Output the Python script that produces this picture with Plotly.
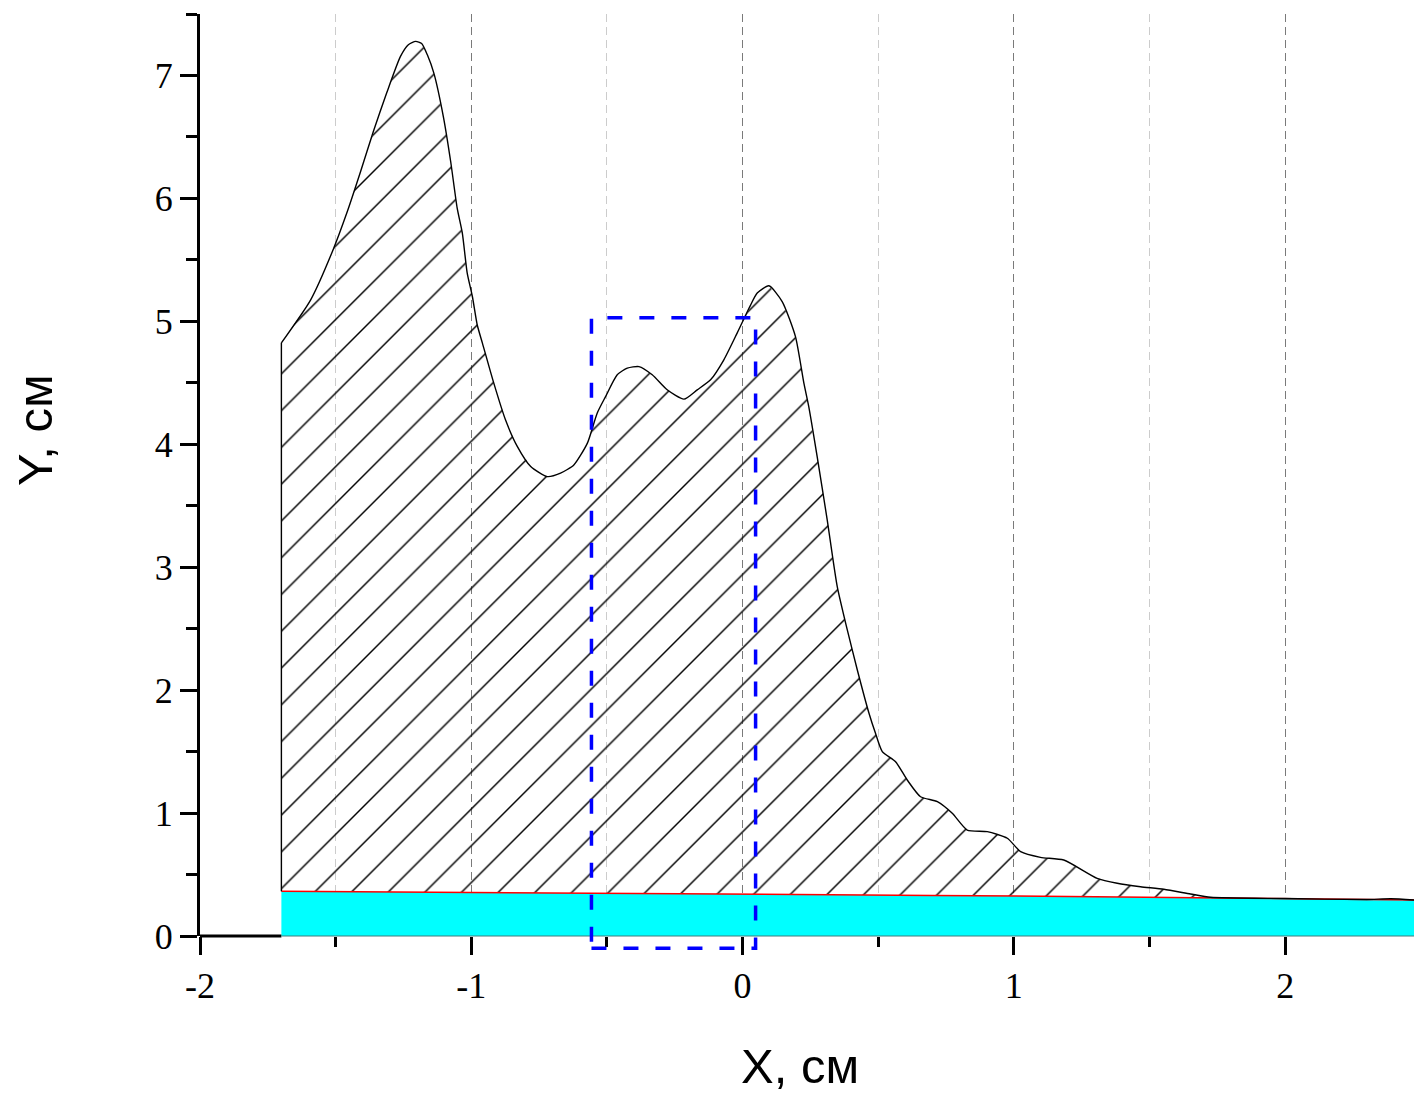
import plotly.graph_objects as go

# ---- data ----
curve_x = [-1.70, -1.70, -1.592, -1.512, -1.457, -1.408, -1.361, -1.312, -1.261, -1.232,
           -1.205, -1.183, -1.162, -1.138, -1.103, -1.076, -1.052, -1.033, -1.015, -0.996,
           -0.978, -0.959, -0.917, -0.874, -0.830, -0.781, -0.720, -0.671, -0.622, -0.572,
           -0.536, -0.505, -0.462, -0.425, -0.382, -0.333, -0.278, -0.216, -0.167, -0.118,
           -0.069, -0.020, 0.029, 0.054, 0.097, 0.146, 0.195, 0.226, 0.244,
           0.275, 0.312, 0.349, 0.386, 0.423, 0.466, 0.490, 0.515, 0.564, 0.607,
           0.656, 0.718, 0.773, 0.828, 0.902, 0.976, 1.025, 1.098, 1.184, 1.307,
           1.381, 1.467, 1.553, 1.651, 1.725, 2.0, 2.3, 2.39, 2.475]
curve_y = [0.365, 4.825, 5.175, 5.568, 5.893, 6.219, 6.544, 6.857, 7.155, 7.25,
           7.277, 7.26, 7.168, 7.019, 6.666, 6.300, 5.921, 5.717, 5.392, 5.202,
           4.97, 4.823, 4.497, 4.199, 3.981, 3.819, 3.737, 3.765, 3.832, 4.009,
           4.253, 4.388, 4.565, 4.619, 4.632, 4.565, 4.443, 4.367, 4.443, 4.524,
           4.687, 4.904, 5.13, 5.23, 5.289, 5.161, 4.876, 4.497, 4.307,
           3.900, 3.385, 2.842, 2.490, 2.164, 1.812, 1.649, 1.500, 1.418, 1.269,
           1.133, 1.093, 0.998, 0.862, 0.849, 0.795, 0.686, 0.640, 0.618, 0.469,
           0.429, 0.401, 0.380, 0.342, 0.315, 0.305, 0.297, 0.303, 0.293]

base_x = [-1.70, -1.0, 0.0, 0.7, 1.3, 2.0, 2.475]
base_y = [0.365, 0.355, 0.345, 0.33, 0.32, 0.305, 0.293]

rect_x = [-0.557, 0.048]
rect_y = [-0.10, 5.03]

x_range = [-2, 2.475]
y_range = [0, 7.5]
x_ticks = [-2, -1, 0, 1, 2]
y_ticks = [0, 1, 2, 3, 4, 5, 6, 7]

assert len(curve_x) == len(curve_y)

fig = go.Figure()

# cyan band
fig.add_trace(go.Scatter(x=base_x, y=base_y, mode="lines",
                         line=dict(color="red", width=1.5),
                         fill="tozeroy", fillcolor="#00FFFF",
                         hoverinfo="skip", showlegend=False))
# hatched area (fill only)
fig.add_trace(go.Scatter(x=curve_x, y=curve_y, mode="lines",
                         line=dict(color="rgba(0,0,0,0)", width=0),
                         fill="tonexty", fillcolor="rgba(0,0,0,0)",
                         fillpattern=dict(shape="/", size=26, solidity=0.055,
                                          fgcolor="black", fgopacity=1,
                                          bgcolor="rgba(0,0,0,0)"),
                         hoverinfo="skip", showlegend=False))
# profile outline: vertical edge + smooth curve
fig.add_trace(go.Scatter(x=curve_x[:2], y=curve_y[:2], mode="lines",
                         line=dict(color="black", width=1.4),
                         hoverinfo="skip", showlegend=False))
fig.add_trace(go.Scatter(x=curve_x[1:], y=curve_y[1:], mode="lines",
                         line=dict(color="black", width=1.4, shape="spline", smoothing=0.6),
                         hoverinfo="skip", showlegend=False))


def ypaper(v):
    return (v - y_range[0]) / (y_range[1] - y_range[0])


# x-axis line segment left of the profile and band bottom edge
fig.add_shape(type="line", xref="x", yref="paper", x0=x_range[0], x1=curve_x[0],
              y0=0, y1=0, line=dict(color="black", width=3))
fig.add_shape(type="line", xref="x", yref="paper", x0=curve_x[0], x1=x_range[1],
              y0=0, y1=0, line=dict(color="#3f7f7f", width=1.2))

# dashed blue rectangle
fig.add_shape(type="rect", xref="x", yref="paper",
              x0=rect_x[0], x1=rect_x[1], y0=ypaper(rect_y[0]), y1=ypaper(rect_y[1]),
              line=dict(color="#0000FF", width=3.5, dash="15px,17px"),
              fillcolor="rgba(0,0,0,0)", layer="above")

tick_font = dict(family="Liberation Serif", size=36, color="black")
title_font = dict(family="Liberation Sans", size=49, color="black")

fig.update_layout(
    width=1414, height=1095,
    margin=dict(l=200, r=0, t=14, b=159),
    paper_bgcolor="white", plot_bgcolor="white",
    xaxis=dict(range=x_range, tickvals=x_ticks, ticktext=[str(v) for v in x_ticks],
               showline=False, ticks="outside", ticklen=18, tickwidth=3, tickcolor="black",
               tickfont=tick_font, zeroline=False,
               showgrid=True, gridcolor="#7a7a7a", gridwidth=1, griddash="8px,5px",
               minor=dict(dtick=0.5, ticks="outside", ticklen=10, tickwidth=3, tickcolor="black",
                          showgrid=True, gridcolor="#cccccc", gridwidth=1, griddash="8px,5px"),
               layer="below traces", fixedrange=True),
    yaxis=dict(range=y_range, tickvals=y_ticks, ticktext=[str(v) for v in y_ticks],
               showline=True, linewidth=3, linecolor="black",
               ticks="outside", ticklen=17, tickwidth=3, tickcolor="black",
               tickfont=tick_font, zeroline=False, showgrid=False,
               minor=dict(dtick=0.5, ticks="outside", ticklen=11, tickwidth=3, tickcolor="black",
                          showgrid=False),
               fixedrange=True),
    annotations=[
        dict(text="X, см", xref="paper", yref="paper", x=(800 - 200) / 1214, y=(936 - 1066) / 922,
             showarrow=False, font=title_font, xanchor="center", yanchor="middle"),
        dict(text="Y, см", xref="paper", yref="paper", x=(35 - 200) / 1214, y=(936 - 430) / 922,
             showarrow=False, textangle=-90, font=title_font,
             xanchor="center", yanchor="middle"),
    ],
)

fig.write_html("out.html", config={"displayModeBar": False},
               post_script="document.body.style.margin='0';document.body.style.overflow='hidden';")
